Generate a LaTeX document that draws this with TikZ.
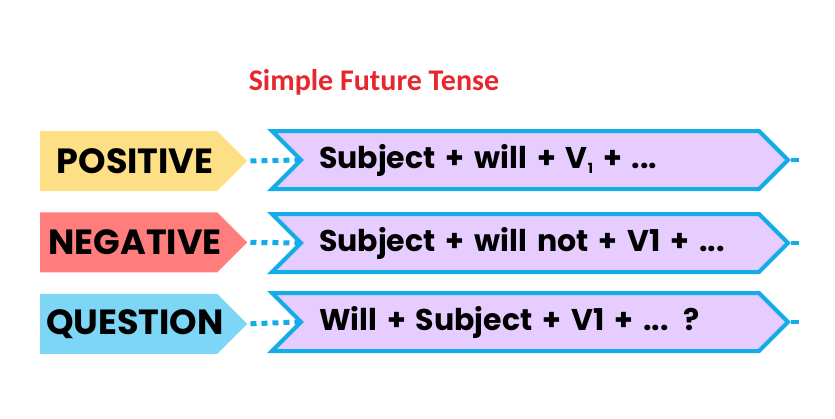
\documentclass[tikz,border=0pt]{standalone}
\usepackage{fontspec}
\setmainfont{Poppins}
\newfontfamily\titlefont{Carlito}
\usetikzlibrary{positioning,shapes.symbols}
\definecolor{sfRed}{HTML}{E8262E}
\definecolor{sfYellow}{HTML}{FDDF85}
\definecolor{sfPink}{HTML}{FF7D7D}
\definecolor{sfSky}{HTML}{7ED6F6}
\definecolor{sfLilac}{HTML}{E6CCFF}
\definecolor{sfCyan}{HTML}{12ADE8}
\newcommand{\sub}[1]{\raisebox{-0.35ex}{\fontsize{14}{14}\selectfont #1}}
\begin{document}
\begin{tikzpicture}[x=1pt,y=-1pt,
  labbox/.style={signal,signal to=east,minimum width=207pt,minimum height=60pt,inner sep=0pt,anchor=west},
  labtext/.style={inner sep=0pt,font=\fontsize{35}{35}\selectfont\bfseries},
  rule/.style={signal,signal to=east,signal from=west,draw=sfCyan,line width=4pt,fill=sfLilac,
    minimum width=516pt,minimum height=58pt,inner ysep=1pt,text width=422pt,align=left,
    font=\fontsize{30}{30}\selectfont\bfseries},
  dots/.style={sfCyan,line width=5pt,dash pattern=on 6pt off 5pt},
  tail/.style={sfCyan,line width=4pt}]
  \useasboundingbox (0,0) rectangle (835,418);
  \node[font=\titlefont\fontsize{30}{30}\selectfont\bfseries,text=sfRed] (title) at (374,82) {Simple Future Tense};
  % forms
  \node[labbox,fill=sfYellow] (pos) at (40,161) {};
  \node[labbox,fill=sfPink,below=21pt of pos.south west,anchor=north west] (neg) {};
  \node[labbox,fill=sfSky,below=21pt of neg.south west,anchor=north west] (que) {};
  \foreach \n/\t in {pos/POSITIVE,neg/NEGATIVE,que/QUESTION}
    \node[labtext] (\n t) at ([xshift=95pt]\n.west) {\t};
  % structures
  \node[rule] (posr) at (530,160) {Subject + will + V\sub{1} + ...};
  \node[rule] (negr) at (530,243) {Subject + will not + V1 + ...};
  \node[rule] (quer) at (530,322) {Will + Subject + V1 + ... ?};
  \foreach \a/\b in {pos/posr,neg/negr,que/quer}{
    \draw[dots] ([xshift=3pt]\a.east) -- (\b.west);
    \coordinate (\b t) at ([xshift=8pt]\b.east);
    \draw[tail] (\b.east) -- (\b t);
  }
\end{tikzpicture}
\end{document}
